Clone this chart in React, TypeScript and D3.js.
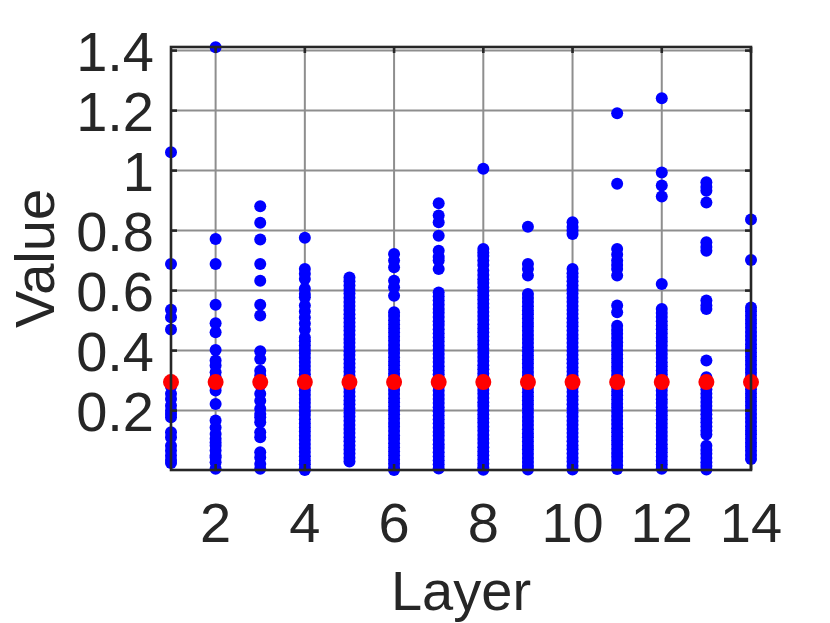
import React from "react";
import * as d3 from "d3";

// layers on the x axis
const layers = [1, 2, 3, 4, 5, 6, 7, 8, 9, 10, 11, 12, 13, 14];

// per-layer values (blue dots)
const layer1 = [1.061, 0.689, 0.536, 0.511, 0.47, 0.3, 0.28, 0.256, 0.239, 0.217, 0.2, 0.189, 0.178, 0.128, 0.111, 0.083, 0.067, 0.05, 0.035, 0.025];
const layer2 = [1.411, 0.772, 0.689, 0.553, 0.491, 0.461, 0.402, 0.367, 0.35, 0.328, 0.31, 0.28, 0.267, 0.222, 0.167, 0.144, 0.122, 0.106, 0.094, 0.083, 0.067, 0.05, 0.044, 0.028, 0.006];
const layer3 = [0.881, 0.826, 0.77, 0.689, 0.633, 0.553, 0.517, 0.398, 0.372, 0.333, 0.317, 0.3, 0.285, 0.256, 0.233, 0.206, 0.189, 0.178, 0.161, 0.128, 0.111, 0.061, 0.044, 0.022, 0.006];
const layer4 = [0.776, 0.672, 0.656, 0.639, 0.606, 0.589, 0.578, 0.55, 0.53, 0.51, 0.49, 0.47,
  0.444, 0.431, 0.417, 0.403, 0.39, 0.376, 0.362, 0.349, 0.335, 0.321, 0.308, 0.294, 0.28, 0.267, 0.253, 0.239, 0.226, 0.212, 0.198, 0.185, 0.171, 0.157, 0.144, 0.13, 0.116, 0.103, 0.089, 0.075, 0.062, 0.048, 0.034, 0.021, 0.007, 0.002];
const layer5 = [0.644, 0.631, 0.617, 0.603, 0.59, 0.576, 0.562, 0.549, 0.535, 0.521, 0.508, 0.494, 0.48, 0.467, 0.453, 0.439, 0.426, 0.412, 0.398, 0.385, 0.371, 0.357, 0.344, 0.33, 0.316, 0.303, 0.289, 0.275, 0.262, 0.248, 0.234, 0.221, 0.207, 0.193, 0.18, 0.166, 0.152, 0.139, 0.125, 0.111, 0.098, 0.084, 0.07, 0.057, 0.043, 0.03];
const layer6 = [0.722, 0.7, 0.678, 0.633, 0.611, 0.583,
  0.528, 0.515, 0.501, 0.487, 0.474, 0.46, 0.446, 0.433, 0.419, 0.405, 0.392, 0.378, 0.364, 0.351, 0.337, 0.323, 0.31, 0.296, 0.282, 0.269, 0.255, 0.241, 0.228, 0.214, 0.2, 0.187, 0.173, 0.159, 0.146, 0.132, 0.118, 0.105, 0.091, 0.077, 0.064, 0.05, 0.036, 0.023, 0.009, 0.002];
const layer7 = [0.891, 0.85, 0.828, 0.783, 0.733, 0.712, 0.7, 0.672,
  0.594, 0.58, 0.567, 0.553, 0.539, 0.526, 0.512, 0.498, 0.485, 0.471, 0.457, 0.444, 0.43, 0.416, 0.403, 0.389, 0.375, 0.362, 0.348, 0.334, 0.321, 0.307, 0.293, 0.28, 0.266, 0.252, 0.239, 0.225, 0.211, 0.198, 0.184, 0.17, 0.157, 0.143, 0.129, 0.116, 0.102, 0.088, 0.075, 0.061, 0.047, 0.034, 0.02, 0.007];
const layer8 = [1.006, 0.739, 0.727, 0.715, 0.7, 0.685, 0.667,
  0.652, 0.638, 0.625, 0.611, 0.597, 0.584, 0.57, 0.556, 0.543, 0.529, 0.515, 0.502, 0.488, 0.474, 0.461, 0.447, 0.433, 0.42, 0.406, 0.392, 0.379, 0.365, 0.351, 0.338, 0.324, 0.31, 0.297, 0.283, 0.269, 0.256, 0.242, 0.228, 0.215, 0.201, 0.187, 0.174, 0.16, 0.146, 0.133, 0.119, 0.105, 0.092, 0.078, 0.064, 0.051, 0.037, 0.023, 0.01, 0.003];
const layer9 = [0.813, 0.689, 0.672, 0.65,
  0.589, 0.575, 0.562, 0.548, 0.534, 0.521, 0.507, 0.493, 0.48, 0.466, 0.452, 0.439, 0.425, 0.411, 0.398, 0.384, 0.37, 0.357, 0.343, 0.329, 0.316, 0.302, 0.288, 0.275, 0.261, 0.247, 0.234, 0.22, 0.206, 0.193, 0.179, 0.165, 0.152, 0.138, 0.124, 0.111, 0.097, 0.083, 0.07, 0.056, 0.042, 0.029, 0.015, 0.004];
const layer10 = [0.828, 0.812, 0.8, 0.789,
  0.672, 0.658, 0.645, 0.631, 0.617, 0.604, 0.59, 0.576, 0.563, 0.549, 0.535, 0.522, 0.508, 0.494, 0.481, 0.467, 0.453, 0.44, 0.426, 0.412, 0.399, 0.385, 0.371, 0.358, 0.344, 0.33, 0.317, 0.303, 0.289, 0.276, 0.262, 0.248, 0.235, 0.221, 0.207, 0.194, 0.18, 0.166, 0.153, 0.139, 0.125, 0.112, 0.098, 0.084, 0.071, 0.057, 0.043, 0.03, 0.016, 0.004];
const layer11 = [1.191, 0.956, 0.739, 0.72, 0.7, 0.685, 0.672, 0.65, 0.55, 0.528,
  0.483, 0.469, 0.456, 0.442, 0.428, 0.415, 0.401, 0.387, 0.374, 0.36, 0.346, 0.333, 0.319, 0.305, 0.292, 0.278, 0.264, 0.251, 0.237, 0.223, 0.21, 0.196, 0.182, 0.169, 0.155, 0.141, 0.128, 0.114, 0.1, 0.087, 0.073, 0.059, 0.046, 0.032, 0.018, 0.005];
const layer12 = [1.241, 0.994, 0.95, 0.914, 0.622,
  0.539, 0.525, 0.512, 0.498, 0.484, 0.471, 0.457, 0.443, 0.43, 0.416, 0.402, 0.389, 0.375, 0.361, 0.348, 0.334, 0.32, 0.307, 0.293, 0.279, 0.266, 0.252, 0.238, 0.225, 0.211, 0.197, 0.184, 0.17, 0.156, 0.143, 0.129, 0.115, 0.102, 0.088, 0.074, 0.061, 0.047, 0.033, 0.02, 0.006];
const layer13 = [0.961, 0.945, 0.933, 0.894, 0.761, 0.745, 0.733, 0.567, 0.55, 0.539, 0.367,
  0.311, 0.297, 0.284, 0.27, 0.256, 0.243, 0.229, 0.215, 0.202, 0.188, 0.174, 0.161, 0.147, 0.133, 0.12,
  0.083, 0.069, 0.056, 0.042, 0.028, 0.015, 0.004];
const layer14 = [0.837, 0.702,
  0.544, 0.531, 0.517, 0.503, 0.49, 0.476, 0.462, 0.449, 0.435, 0.421, 0.408, 0.394, 0.38, 0.367, 0.353, 0.339, 0.326, 0.312, 0.298, 0.285, 0.271, 0.257, 0.244, 0.23, 0.216, 0.203, 0.189, 0.175, 0.162, 0.148, 0.134, 0.121, 0.107, 0.093, 0.08, 0.066, 0.052, 0.039];

const layerValues = [layer1, layer2, layer3, layer4, layer5, layer6, layer7, layer8, layer9, layer10, layer11, layer12, layer13, layer14];

// red dots (one per layer)
const redValues = [0.295, 0.295, 0.295, 0.295, 0.295, 0.295, 0.295, 0.295, 0.295, 0.295, 0.295, 0.295, 0.295, 0.295];

const xTicks = [2, 4, 6, 8, 10, 12, 14];
const yTicks = [0.2, 0.4, 0.6, 0.8, 1, 1.2, 1.4];

export default function App() {
  const width = 830;
  const height = 623;
  const left = 171, right = 751, top = 47, bottom = 470;
  const font = "'Liberation Sans', Arial, Helvetica, sans-serif";
  const ink = "#262626";

  const x = d3.scaleLinear().domain([1, 14]).range([left, right]);
  const y = d3.scaleLinear().domain([0.002, 1.412]).range([bottom, top]);

  const blue = layers.flatMap((l, i) => layerValues[i].map(v => ({ l, v })));

  return (
    <svg width={width} height={height} style={{ position: "absolute", left: 0, top: 0, background: "#fff" }}>
      <rect x={left} y={top} width={right - left} height={bottom - top} fill="#fff" />

      {/* grid */}
      <g stroke="#8e8e8e" strokeWidth={2}>
        {xTicks.map(t => (
          <line key={"gx" + t} x1={x(t)} x2={x(t)} y1={top} y2={bottom} />
        ))}
        {yTicks.map(t => (
          <line key={"gy" + t} x1={left} x2={right} y1={y(t)} y2={y(t)} />
        ))}
      </g>

      {/* blue points */}
      <g fill="#0000ff">
        {blue.map((d, i) => (
          <circle key={i} cx={x(d.l)} cy={y(d.v)} r={6} />
        ))}
      </g>

      {/* red points */}
      <g fill="#ff0000">
        {layers.map((l, i) => (
          <circle key={l} cx={x(l)} cy={y(redValues[i])} r={8} />
        ))}
      </g>

      {/* box + ticks */}
      <rect x={left} y={top} width={right - left} height={bottom - top} fill="none" stroke={ink} strokeWidth={2.6} />
      <g stroke={ink} strokeWidth={2.6}>
        {xTicks.map(t => (
          <g key={"tx" + t}>
            <line x1={x(t)} x2={x(t)} y1={bottom} y2={bottom - 6} />
            <line x1={x(t)} x2={x(t)} y1={top} y2={top + 6} />
          </g>
        ))}
        {yTicks.map(t => (
          <g key={"ty" + t}>
            <line x1={left} x2={left + 6} y1={y(t)} y2={y(t)} />
            <line x1={right} x2={right - 6} y1={y(t)} y2={y(t)} />
          </g>
        ))}
      </g>

      {/* tick labels */}
      <g fill={ink} fontFamily={font} fontSize={56}>
        {xTicks.map(t => (
          <text key={"lx" + t} x={x(t)} y={542} textAnchor="middle">{t}</text>
        ))}
        {yTicks.map(t => (
          <text key={"ly" + t} x={left - 17} y={y(t) + 20} textAnchor="end">{t}</text>
        ))}
      </g>

      {/* axis labels */}
      <text x={(left + right) / 2} y={610} textAnchor="middle" fill={ink} fontFamily={font} fontSize={56}>Layer</text>
      <text transform={`translate(54, ${(top + bottom) / 2}) rotate(-90)`} textAnchor="middle" fill={ink} fontFamily={font} fontSize={56}>Value</text>
    </svg>
  );
}
